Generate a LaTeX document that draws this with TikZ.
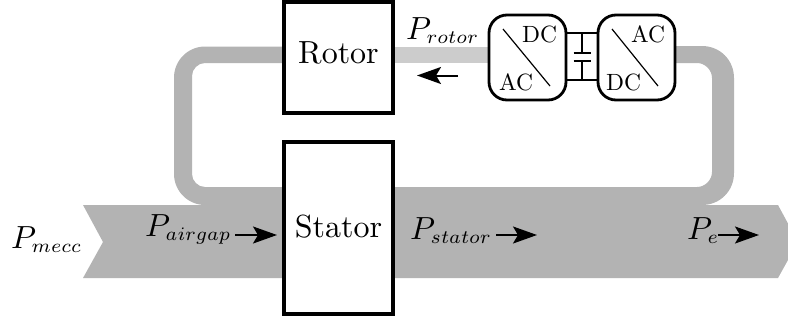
\documentclass[tikz,border=0pt]{standalone}
\usetikzlibrary{arrows.meta}
\definecolor{bandgray}{HTML}{B3B3B3}
\definecolor{lightband}{HTML}{CCCCCC}
\newcommand{\bigtext}[1]{\scalebox{3.2}{#1}}
\newcommand{\smalltext}[1]{\scalebox{2.35}{#1}}
\newcommand{\powersym}[1]{\bigtext{$P_{\scalebox{.85}{$\scriptstyle #1$}}$}}
\tikzset{
  band/.style={fill=bandgray,draw=none},
  machine/.style={draw=black,line width=4pt,fill=white,minimum width=109pt,inner sep=0pt,text height=22pt},
  converter/.style={draw=black,line width=2.8pt,fill=white,rounded corners=18pt,minimum width=77pt,minimum height=85pt,inner sep=0pt},
  convtext/.style={anchor=base west,inner sep=0pt},
  powerlabel/.style={anchor=base west,inner sep=0pt},
  powerarrow/.style={draw=black,line width=2pt,-{Stealth[length=24pt,width=17pt,inset=5pt]}},
  thinline/.style={draw=black,line width=2.8pt},
  diag/.style={draw=black,line width=1.2pt}
}
\begin{document}
\begin{tikzpicture}[x=1pt,y=-1pt]
\useasboundingbox (0,0) rectangle (788,322);
% power bands
\fill[band] (83,205) -- (103,242) -- (83,278) -- (778,278) -- (788,260) -- (788,223.5) -- (778,205) -- (697,205) -- (697,187) -- (210,187) -- (210,205) -- cycle;
\fill[band] (290,46.5) -- (205,46.5) .. controls (188,46.5) and (174,60.5) .. (174,77.5) -- (174,174) .. controls (174,191) and (188,205) .. (205,205) -- (212,205) -- (212,187) -- (205,187) .. controls (198,187) and (192,181) .. (192,174) -- (192,76) .. controls (192,69) and (198,63) .. (205,63) -- (290,63) -- cycle;
\fill[band] (670,46) -- (702,46) .. controls (720,46) and (734,60) .. (734,78) -- (734,173) .. controls (734,191) and (720,205) .. (702,205) -- (690,205) -- (690,187) -- (697,187) .. controls (705,187) and (712,180) .. (712,172) -- (712,78) .. controls (712,70) and (705,63) .. (697,63) -- (670,63) -- cycle;
\fill[lightband] (390,46.5) rectangle (495,63);
% machines
\node[machine,minimum height=111pt,text depth=11pt] (rotor) at (338.5,57.5) {\bigtext{Rotor}};
\node[machine,minimum height=172pt,text depth=4pt] (stator) at (338.5,228) {\bigtext{Stator}};
% converters
\coordinate (capT) at (582,33);
\coordinate (capB) at (582,80);
\coordinate (plateA) at (582,53);
\coordinate (plateB) at (582,61);
\node[converter] (convL) at (527.5,57.5) {};
\node[converter] (convR) at (636.5,57.5) {};
\draw[thinline] (convL.east |- capT) -- (convR.west |- capT);
\draw[thinline] (convL.east |- capB) -- (convR.west |- capB);
\draw[thinline,line width=2pt] (capT) -- (plateA);
\draw[thinline,line width=2pt] (plateB) -- (capB);
\draw[thinline,line width=2pt] ([xshift=-8.5pt]plateA) -- ([xshift=8.5pt]plateA);
\draw[thinline,line width=2pt] ([xshift=-8.5pt]plateB) -- ([xshift=8.5pt]plateB);
\coordinate (dLa) at (503,29); \coordinate (dLb) at (550,86);
\coordinate (dRa) at (612,29); \coordinate (dRb) at (658,86);
\draw[diag] (dLa) -- (dLb);
\draw[diag] (dRa) -- (dRb);
\node[convtext] (dcl) at (522,42) {\smalltext{DC}};
\node[convtext] (acl) at (499,90) {\smalltext{AC}};
\node[convtext] (acr) at (631,42) {\smalltext{AC}};
\node[convtext] (dcr) at (606,90) {\smalltext{DC}};
% labels
\node[powerlabel] (pmecc) at (11,248) {\powersym{mecc}};
\node[powerlabel] (pair) at (145,236) {\powersym{airgap}};
\node[powerlabel] (pstat) at (410,239) {\powersym{stator}};
\node[powerlabel] (pe) at (687,239) {\powersym{e}};
\node[powerlabel] (prot) at (406,39) {\powersym{rotor}};
% arrows
\coordinate (a1s) at (235,235); \coordinate (a1e) at (277,235);
\coordinate (a2s) at (496,235); \coordinate (a2e) at (537,235);
\coordinate (a3s) at (718,235); \coordinate (a3e) at (759,235);
\coordinate (a4s) at (458,75.5); \coordinate (a4e) at (417,75.5);
\draw[powerarrow] (a1s) -- (a1e);
\draw[powerarrow] (a2s) -- (a2e);
\draw[powerarrow] (a3s) -- (a3e);
\draw[powerarrow] (a4s) -- (a4e);
\end{tikzpicture}
\end{document}
